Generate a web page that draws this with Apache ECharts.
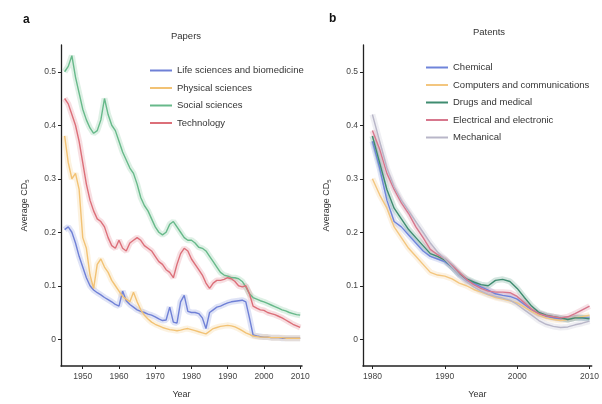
<!DOCTYPE html>
<html><head><meta charset="utf-8">
<script src="https://cdn.jsdelivr.net/npm/echarts@6/dist/echarts.min.js"></script>
<style>html,body{margin:0;padding:0;background:#fff}#c{width:602px;height:404px}</style>
</head><body><div id="c"></div>
<script>
// ---- Panel a: Papers (1945-2010) ----
const yearsA = [];
for (let y = 1945; y <= 2010; y++) yearsA.push(y);
const lifeSci = [0.205,0.21,0.20,0.18,0.155,0.135,0.115,0.10,0.092,0.087,0.083,0.078,0.074,0.07,0.065,0.062,0.09,0.072,0.065,0.06,0.055,0.052,0.05,0.047,0.045,0.042,0.038,0.035,0.036,0.06,0.032,0.03,0.07,0.082,0.052,0.05,0.05,0.048,0.04,0.02,0.05,0.055,0.06,0.062,0.065,0.068,0.07,0.071,0.072,0.073,0.07,0.04,0.008,0.006,0.005,0.004,0.004,0.003,0.003,0.003,0.002,0.002,0.002,0.002,0.002,0.002];
const physSci = [0.38,0.33,0.30,0.31,0.28,0.19,0.17,0.12,0.095,0.14,0.15,0.135,0.125,0.11,0.10,0.09,0.08,0.075,0.07,0.088,0.07,0.055,0.045,0.038,0.032,0.028,0.025,0.022,0.02,0.018,0.017,0.016,0.017,0.019,0.02,0.018,0.016,0.014,0.012,0.01,0.015,0.02,0.022,0.024,0.025,0.026,0.025,0.023,0.02,0.016,0.012,0.009,0.006,0.005,0.004,0.004,0.004,0.003,0.003,0.003,0.003,0.002,0.002,0.002,0.002,0.002];
const socSci = [0.50,0.51,0.53,0.49,0.46,0.43,0.41,0.395,0.385,0.39,0.41,0.45,0.42,0.40,0.39,0.37,0.35,0.335,0.32,0.31,0.29,0.265,0.25,0.24,0.225,0.21,0.20,0.195,0.20,0.215,0.22,0.21,0.20,0.19,0.185,0.185,0.18,0.172,0.17,0.165,0.155,0.145,0.135,0.125,0.12,0.118,0.115,0.115,0.113,0.108,0.098,0.085,0.078,0.075,0.072,0.07,0.067,0.064,0.061,0.058,0.055,0.053,0.05,0.048,0.046,0.045];
const techno = [0.45,0.44,0.42,0.40,0.37,0.33,0.29,0.26,0.24,0.225,0.22,0.21,0.19,0.175,0.17,0.185,0.17,0.165,0.18,0.185,0.19,0.185,0.175,0.17,0.165,0.155,0.145,0.14,0.13,0.125,0.115,0.14,0.16,0.17,0.165,0.15,0.14,0.13,0.12,0.105,0.095,0.105,0.11,0.11,0.112,0.115,0.113,0.108,0.10,0.098,0.10,0.085,0.062,0.058,0.055,0.054,0.05,0.048,0.046,0.043,0.04,0.036,0.032,0.028,0.025,0.022];

// ---- Panel b: Patents (1980-2010) ----
const yearsB = [];
for (let y = 1980; y <= 2010; y++) yearsB.push(y);
const chemical = [0.37,0.32,0.26,0.22,0.21,0.195,0.18,0.165,0.155,0.15,0.145,0.135,0.12,0.11,0.105,0.098,0.092,0.085,0.082,0.08,0.075,0.065,0.055,0.048,0.043,0.04,0.038,0.037,0.04,0.04,0.04];
const computers = [0.30,0.27,0.245,0.21,0.19,0.17,0.155,0.14,0.125,0.12,0.118,0.113,0.105,0.10,0.093,0.088,0.083,0.078,0.075,0.072,0.068,0.06,0.052,0.045,0.04,0.037,0.035,0.037,0.04,0.042,0.045];
const drugs = [0.38,0.33,0.28,0.245,0.225,0.205,0.19,0.175,0.16,0.155,0.148,0.135,0.122,0.113,0.107,0.102,0.10,0.11,0.112,0.108,0.095,0.078,0.062,0.05,0.045,0.042,0.04,0.037,0.04,0.04,0.038];
const electrical = [0.39,0.355,0.31,0.28,0.255,0.235,0.21,0.19,0.168,0.158,0.15,0.138,0.125,0.112,0.102,0.095,0.09,0.088,0.088,0.087,0.08,0.068,0.056,0.048,0.044,0.042,0.04,0.042,0.048,0.055,0.062];
const mechanical = [0.42,0.37,0.32,0.285,0.26,0.24,0.22,0.20,0.18,0.163,0.15,0.135,0.12,0.108,0.098,0.09,0.084,0.08,0.077,0.073,0.065,0.055,0.045,0.035,0.028,0.024,0.022,0.023,0.027,0.03,0.034];

const yTicks = [0, 0.1, 0.2, 0.3, 0.4, 0.5];
const xTicksA = [1950, 1960, 1970, 1980, 1990, 2000, 2010];
const xTicksB = [1980, 1990, 2000, 2010];

const seriesA = [
  {name: 'Life sciences and biomedicine', data: lifeSci, color: '#6f80d6'},
  {name: 'Physical sciences', data: physSci, color: '#f2c274'},
  {name: 'Social sciences', data: socSci, color: '#67b98a'},
  {name: 'Technology', data: techno, color: '#dc6f79'}
];
const seriesB = [
  {name: 'Chemical', data: chemical, color: '#6f84da'},
  {name: 'Computers and communications', data: computers, color: '#f3c67f'},
  {name: 'Drugs and medical', data: drugs, color: '#3f8c70'},
  {name: 'Electrical and electronic', data: electrical, color: '#d7778d'},
  {name: 'Mechanical', data: mechanical, color: '#b8b6c8'}
];

const axisCol = '#222';
const labCol = '#444';
function yAxis(idx) {
  return {
    type: 'value', gridIndex: idx, min: -0.05, max: 0.55,
    name: 'Average CD{s|5}', nameLocation: 'middle', nameGap: 31,
    nameTextStyle: {fontSize: 9, color: '#333', fontFamily: 'Liberation Sans',
      rich: {s: {fontSize: 6, verticalAlign: 'bottom', padding: [5,0,0,0], color: '#333'}}},
    splitLine: {show: false},
    axisLine: {show: true, lineStyle: {color: axisCol, width: 1.3}},
    axisTick: {show: true, length: 3, customValues: yTicks, lineStyle: {color: axisCol}},
    axisLabel: {fontSize: 8.5, color: labCol, margin: 5, fontFamily: 'Liberation Sans',
      customValues: yTicks, formatter: v => v === 0 ? '0' : v.toFixed(1)}
  };
}
function xAxis(idx, min, max, ticks) {
  return {
    type: 'value', gridIndex: idx, min: min, max: max,
    name: 'Year', nameLocation: 'middle', nameGap: 24,
    nameTextStyle: {fontSize: 9, color: '#333', fontFamily: 'Liberation Sans'},
    splitLine: {show: false},
    axisLine: {show: true, onZero: false, lineStyle: {color: axisCol, width: 1.5}},
    axisTick: {show: true, length: 3, customValues: ticks, lineStyle: {color: axisCol}},
    axisLabel: {fontSize: 8.5, color: labCol, margin: 6, fontFamily: 'Liberation Sans',
      customValues: ticks, formatter: v => String(v)}
  };
}

function buildSeries(list, years, idx) {
  const out = [];
  list.forEach(s => {
    const pts = years.map((y, i) => [y, s.data[i]]);
    out.push({
      type: 'line', xAxisIndex: idx, yAxisIndex: idx, data: pts, silent: true,
      symbol: 'none', lineStyle: {color: s.color, width: 6, opacity: 0.22}, z: 1
    });
    out.push({
      name: s.name, type: 'line', xAxisIndex: idx, yAxisIndex: idx, data: pts,
      symbol: 'none', color: s.color, itemStyle: {color: s.color},
      lineStyle: {color: s.color, width: 1.4}, z: 3
    });
  });
  return out;
}

const chart = echarts.init(document.getElementById('c'), null, {renderer: 'canvas'});
chart.setOption({
  animation: false,
  backgroundColor: '#fff',
  textStyle: {fontFamily: 'Liberation Sans'},
  title: [
    {text: 'a', left: 18, top: 9, textStyle: {fontSize: 12, fontWeight: 'bold', color: '#111'}},
    {text: 'b', left: 324, top: 8, textStyle: {fontSize: 12, fontWeight: 'bold', color: '#111'}},
    {text: 'Papers', left: 181, top: 26, textAlign: 'center', textStyle: {fontSize: 9.5, fontWeight: 'normal', color: '#333'}},
    {text: 'Patents', left: 484, top: 22, textAlign: 'center', textStyle: {fontSize: 9.5, fontWeight: 'normal', color: '#333'}}
  ],
  legend: [
    {data: seriesA.map(s => s.name), orient: 'vertical', left: 145, top: 59,
      icon: 'rect', itemWidth: 22, itemHeight: 2, itemGap: 4.5,
      textStyle: {fontSize: 9.5, color: '#333', lineHeight: 13}},
    {data: seriesB.map(s => s.name), orient: 'vertical', left: 421, top: 56,
      icon: 'rect', itemWidth: 22, itemHeight: 2, itemGap: 4.5,
      textStyle: {fontSize: 9.5, color: '#333', lineHeight: 13}}
  ],
  grid: [
    {left: 61, top: 45, width: 241, height: 321, containLabel: false},
    {left: 363, top: 45, width: 240, height: 321, containLabel: false}
  ],
  xAxis: [xAxis(0, 1944, 2010.5, xTicksA), xAxis(1, 1978.7, 2010.3, xTicksB)],
  yAxis: [yAxis(0), yAxis(1)],
  series: buildSeries(seriesA, yearsA, 0).concat(buildSeries(seriesB, yearsB, 1))
});
</script></body></html>
